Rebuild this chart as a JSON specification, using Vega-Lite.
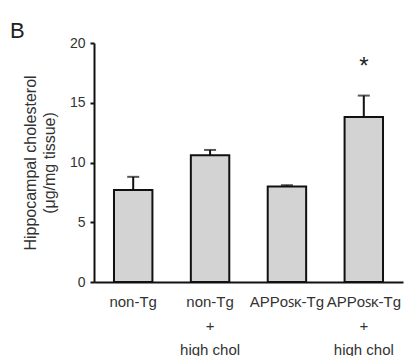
{
  "$schema": "https://vega.github.io/schema/vega-lite/v6.json",
  "width": 309,
  "height": 239,
  "autosize": {"type": "none"},
  "padding": {"left": 94, "top": 43, "right": 15, "bottom": 74},
  "background": "white",
  "config": {
    "view": {"stroke": null},
    "font": "Liberation Sans",
    "axis": {"grid": false}
  },
  "title": {
    "text": "B",
    "anchor": "start",
    "frame": "group",
    "dx": -84,
    "dy": 31,
    "offset": 7,
    "baseline": "alphabetic",
    "fontSize": 22,
    "fontWeight": "normal",
    "color": "#222"
  },
  "data": {
    "values": [
      {"group": "non-Tg", "mean": 7.7, "upper": 8.8, "star": null},
      {"group": "non-Tg|+|high chol", "mean": 10.6, "upper": 11.05, "star": null},
      {"group": "APPᴏꜱᴋ-Tg", "mean": 8.0, "upper": 8.1, "star": null},
      {"group": "APPᴏꜱᴋ-Tg|+|high chol", "mean": 13.8, "upper": 15.6, "star": 18.0}
    ]
  },
  "encoding": {
    "x": {
      "field": "group",
      "type": "nominal",
      "sort": null,
      "scale": {"paddingInner": 0.5, "paddingOuter": 0.26},
      "axis": {
        "title": null,
        "labelAngle": 0,
        "labelExpr": "split(datum.label, '|')",
        "labelFontSize": 15,
        "labelColor": "#333",
        "labelLineHeight": 24,
        "labelPadding": 12,
        "labelBaseline": "top",
        "ticks": false,
        "domainColor": "#111",
        "domainWidth": 2
      }
    }
  },
  "layer": [
    {
      "mark": {"type": "bar", "fill": "#d3d3d3", "stroke": "#111", "strokeWidth": 2},
      "encoding": {
        "y": {
          "field": "mean",
          "type": "quantitative",
          "scale": {"domain": [0, 20], "nice": false},
          "axis": {
            "values": [0, 5, 10, 15, 20],
            "title": ["Hippocampal cholesterol", "(μg/mg tissue)"],
            "titleFontSize": 16,
            "titleFontWeight": "normal",
            "titleColor": "#333",
            "titleLineHeight": 19,
            "titlePadding": 12,
            "labelFontSize": 14,
            "labelColor": "#333",
            "labelPadding": 5,
            "tickSize": 4,
            "tickWidth": 2,
            "tickColor": "#111",
            "domainColor": "#111",
            "domainWidth": 2
          }
        }
      }
    },
    {
      "mark": {"type": "rule", "stroke": "#111", "strokeWidth": 2},
      "encoding": {
        "y": {"field": "mean", "type": "quantitative"},
        "y2": {"field": "upper"}
      }
    },
    {
      "mark": {"type": "tick", "color": "#111", "thickness": 2, "size": 12, "orient": "horizontal"},
      "encoding": {
        "y": {"field": "upper", "type": "quantitative"}
      }
    },
    {
      "mark": {"type": "text", "text": "*", "fontSize": 24, "color": "#222", "baseline": "middle"},
      "encoding": {
        "y": {"field": "star", "type": "quantitative"}
      }
    }
  ]
}
